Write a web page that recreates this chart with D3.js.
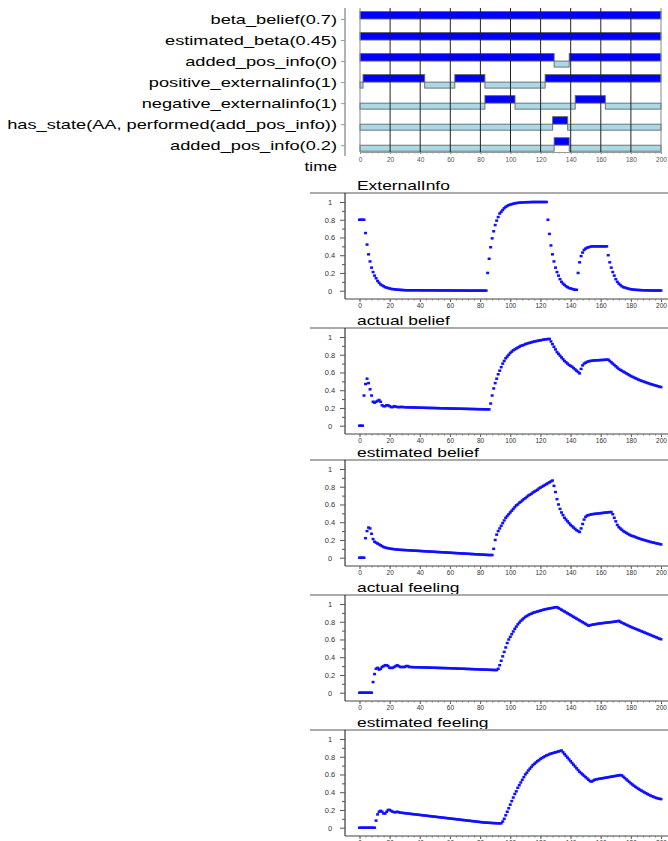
<!DOCTYPE html>
<html>
<head>
<meta charset="utf-8">
<script src="https://cdn.jsdelivr.net/npm/d3@7"></script>
<style>
  body { margin: 0; background: #fff; }
  svg { display: block; }
  text { font-family: "Liberation Sans", Arial, sans-serif; }
</style>
</head>
<body>
<script>
// ---- trace rows (top panel) ----
const traceLabels = [
  'beta_belief(0.7)',
  'estimated_beta(0.45)',
  'added_pos_info(0)',
  'positive_externalinfo(1)',
  'negative_externalinfo(1)',
  'has_state(AA, performed(add_pos_info))',
  'added_pos_info(0.2)'
]
// [from, to, state] ; state 1 = true (dark bar), 0 = false (light bar)
const traceSegments = [
  [[0, 200, 1]],
  [[0, 200, 1]],
  [[0, 129, 1], [129, 139, 0], [139, 200, 1]],
  [[0, 2, 0], [2, 43, 1], [43, 63, 0], [63, 83, 1], [83, 123, 0], [123, 200, 1]],
  [[0, 83, 0], [83, 103, 1], [103, 143, 0], [143, 163, 1], [163, 200, 0]],
  [[0, 128, 0], [128, 138, 1], [138, 200, 0]],
  [[0, 129, 0], [129, 139, 1], [139, 200, 0]]
]
const timeTicks = [0, 20, 40, 60, 80, 100, 120, 140, 160, 180, 200]
const valueTicks = [0, 0.2, 0.4, 0.6, 0.8, 1]

// ---- series, one value per time step 0..200 ----
const externalInfo = [
  0.8, 0.8, 0.8, 0.8, 0.65, 0.52, 0.41, 0.33, 0.26, 0.21, 0.17,
  0.14, 0.11, 0.09, 0.07, 0.06, 0.05, 0.04, 0.035, 0.03, 0.025,
  0.02, 0.018, 0.016, 0.014, 0.012, 0.01, 0.01, 0.008, 0.007, 0.006,
  0.005, 0.005, 0.005, 0.005, 0.005, 0.005, 0.005, 0.005, 0.005, 0.005,
  0.004, 0.004, 0.004, 0.004, 0.004, 0.004, 0.004, 0.004, 0.004, 0.004,
  0.003, 0.003, 0.003, 0.003, 0.003, 0.003, 0.003, 0.003, 0.003, 0.003,
  0.002, 0.002, 0.002, 0.002, 0.002, 0.002, 0.002, 0.002, 0.002, 0.002,
  0.001, 0.001, 0.001, 0.001, 0.001, 0.001, 0.001, 0.001, 0.001, 0.001, 0.001, 0.001, 0.001, 0.001,
  0.2, 0.36, 0.49, 0.59, 0.67, 0.74, 0.79, 0.83, 0.87, 0.89,
  0.91, 0.93, 0.945, 0.955, 0.965, 0.97, 0.976, 0.98, 0.985, 0.988,
  0.99, 0.992, 0.994, 0.995, 0.996, 0.997, 0.998, 0.998, 0.999, 0.999,
  1, 1, 1, 1, 1, 1, 1, 1, 1, 1,
  0.8, 0.64, 0.51, 0.41, 0.33, 0.26, 0.21, 0.17, 0.13, 0.1,
  0.08, 0.065, 0.05, 0.04, 0.03, 0.025, 0.02, 0.015, 0.01, 0.01,
  0.2, 0.32, 0.39, 0.43, 0.46, 0.475, 0.485, 0.49, 0.495, 0.5,
  0.5, 0.5, 0.5, 0.5, 0.5, 0.5, 0.5, 0.5, 0.5, 0.5,
  0.4, 0.32, 0.26, 0.21, 0.17, 0.13, 0.1, 0.08, 0.065, 0.05,
  0.04, 0.035, 0.03, 0.025, 0.02, 0.017, 0.014, 0.012, 0.01, 0.009,
  0.008, 0.007, 0.006, 0.005, 0.005, 0.004, 0.004, 0.003, 0.003, 0.003,
  0.002, 0.002, 0.002, 0.002, 0.002, 0.002
]
const actualBelief = [
  0, 0, 0, 0.34, 0.47, 0.53, 0.48, 0.41, 0.34, 0.27, 0.26,
  0.27, 0.28, 0.29, 0.27, 0.23, 0.22, 0.22, 0.23, 0.23, 0.22,
  0.21, 0.21, 0.22, 0.215, 0.21, 0.21, 0.21, 0.212, 0.21, 0.208,
  0.208, 0.207, 0.207, 0.206, 0.206, 0.205, 0.205, 0.204, 0.204, 0.203,
  0.203, 0.202, 0.202, 0.201, 0.201, 0.2, 0.2, 0.2, 0.199, 0.199,
  0.198, 0.198, 0.197, 0.197, 0.196, 0.196, 0.196, 0.195, 0.195, 0.194,
  0.194, 0.193, 0.193, 0.192, 0.192, 0.192, 0.191, 0.191, 0.19, 0.19,
  0.19, 0.189, 0.189, 0.188, 0.188, 0.188, 0.187, 0.187, 0.186, 0.186,
  0.186, 0.185, 0.185, 0.185, 0.184, 0.184,
  0.25, 0.34, 0.42, 0.48, 0.53, 0.58, 0.62, 0.66, 0.7, 0.73,
  0.76, 0.78, 0.8, 0.82, 0.835, 0.85, 0.86, 0.87, 0.88, 0.89,
  0.9, 0.905, 0.91, 0.92, 0.925, 0.93, 0.935, 0.94, 0.945, 0.95,
  0.953, 0.956, 0.96, 0.963, 0.966, 0.97, 0.973, 0.975, 0.977, 0.978,
  0.95, 0.92, 0.89, 0.86, 0.83, 0.81, 0.79, 0.77, 0.75, 0.73,
  0.715, 0.7, 0.685, 0.675, 0.665, 0.65, 0.635, 0.62, 0.605, 0.59,
  0.64, 0.68, 0.7, 0.71, 0.72, 0.725, 0.73, 0.732, 0.734, 0.736,
  0.737, 0.738, 0.739, 0.74, 0.741, 0.742, 0.743, 0.744, 0.745, 0.73,
  0.715, 0.7, 0.685, 0.67, 0.655, 0.64, 0.63, 0.62, 0.61, 0.6,
  0.59, 0.58, 0.57, 0.56, 0.552, 0.544, 0.536, 0.528, 0.52, 0.513,
  0.506, 0.5, 0.494, 0.488, 0.482, 0.476, 0.47, 0.465, 0.46, 0.455,
  0.45, 0.445, 0.44, 0.435
]
const estimatedBelief = [
  0, 0, 0, 0, 0.22, 0.3, 0.34, 0.33, 0.27, 0.21, 0.18,
  0.17, 0.16, 0.15, 0.14, 0.13, 0.12, 0.115, 0.11, 0.107, 0.104,
  0.1, 0.098, 0.096, 0.094, 0.092, 0.09, 0.089, 0.088, 0.087, 0.086,
  0.085, 0.084, 0.083, 0.082, 0.081, 0.08, 0.079, 0.078, 0.077, 0.076,
  0.075, 0.074, 0.073, 0.072, 0.071, 0.07, 0.069, 0.068, 0.067, 0.066,
  0.065, 0.064, 0.063, 0.062, 0.061, 0.06, 0.059, 0.058, 0.057, 0.056,
  0.055, 0.054, 0.053, 0.052, 0.051, 0.05, 0.049, 0.048, 0.047, 0.046,
  0.045, 0.044, 0.043, 0.042, 0.041, 0.04, 0.039, 0.038, 0.037, 0.036,
  0.035, 0.034, 0.033, 0.032, 0.031, 0.03, 0.03, 0.03,
  0.1, 0.2, 0.26, 0.3, 0.33, 0.36, 0.39, 0.42, 0.45, 0.47,
  0.49, 0.51, 0.53, 0.55, 0.57, 0.59, 0.6, 0.62, 0.63, 0.645,
  0.66, 0.67, 0.685, 0.7, 0.71, 0.72, 0.735, 0.745, 0.755, 0.765,
  0.78, 0.79, 0.8, 0.81, 0.82, 0.83, 0.84, 0.85, 0.86, 0.87,
  0.81, 0.74, 0.66, 0.6, 0.55, 0.51, 0.48, 0.45, 0.43, 0.41,
  0.39, 0.37, 0.355, 0.34, 0.325, 0.31, 0.3, 0.29, 0.33, 0.38,
  0.43, 0.46, 0.475, 0.48, 0.485, 0.49, 0.492, 0.494, 0.496, 0.498,
  0.5, 0.502, 0.504, 0.506, 0.508, 0.51, 0.512, 0.514, 0.515, 0.49,
  0.45, 0.41, 0.37, 0.345, 0.33, 0.315, 0.3, 0.29, 0.28, 0.27,
  0.26, 0.25, 0.245, 0.24, 0.233, 0.226, 0.22, 0.214, 0.208, 0.203,
  0.198, 0.193, 0.188, 0.183, 0.178, 0.174, 0.17, 0.166, 0.162, 0.158,
  0.154, 0.15
]
const actualFeeling = [
  0, 0, 0, 0, 0, 0, 0, 0, 0,
  0.12, 0.21, 0.27, 0.28, 0.26, 0.27, 0.29, 0.3, 0.31, 0.31,
  0.3, 0.28, 0.28, 0.28, 0.29, 0.3, 0.31, 0.3, 0.29, 0.29,
  0.29, 0.29, 0.3, 0.3, 0.29, 0.29, 0.288, 0.288, 0.287, 0.287,
  0.286, 0.286, 0.285, 0.285, 0.284, 0.284, 0.283, 0.283, 0.282, 0.282,
  0.281, 0.281, 0.28, 0.28, 0.279, 0.279, 0.278, 0.278, 0.277, 0.277,
  0.276, 0.276, 0.275, 0.275, 0.274, 0.273, 0.272, 0.272, 0.271, 0.27,
  0.27, 0.269, 0.268, 0.268, 0.267, 0.266, 0.266, 0.265, 0.264, 0.264,
  0.263, 0.262, 0.262, 0.261, 0.26, 0.26, 0.259, 0.258, 0.258, 0.257,
  0.256, 0.256, 0.255,
  0.27, 0.31, 0.36, 0.41, 0.46, 0.51, 0.56, 0.6, 0.63, 0.66,
  0.69, 0.72, 0.745, 0.77, 0.79, 0.81, 0.825, 0.84, 0.855, 0.865,
  0.875, 0.885, 0.89, 0.9, 0.905, 0.91, 0.915, 0.92, 0.925, 0.93,
  0.935, 0.94, 0.943, 0.946, 0.95, 0.953, 0.956, 0.96, 0.963, 0.965,
  0.955, 0.945, 0.935, 0.925, 0.915, 0.905, 0.895, 0.885, 0.875, 0.865,
  0.855, 0.845, 0.835, 0.825, 0.815, 0.805, 0.795, 0.785, 0.775, 0.765,
  0.755, 0.76, 0.765, 0.768, 0.771, 0.774, 0.777, 0.78, 0.782, 0.784,
  0.786, 0.788, 0.79, 0.792, 0.794, 0.796, 0.798, 0.8, 0.803, 0.806,
  0.81, 0.8, 0.79, 0.782, 0.774, 0.766, 0.758, 0.75, 0.742, 0.735,
  0.728, 0.721, 0.714, 0.707, 0.7, 0.693, 0.686, 0.679, 0.672, 0.665,
  0.658, 0.651, 0.644, 0.637, 0.63, 0.623, 0.616, 0.609, 0.602
]
const estimatedFeeling = [
  0, 0, 0, 0, 0, 0, 0, 0, 0, 0, 0,
  0.08, 0.15, 0.18, 0.19, 0.18, 0.16, 0.16, 0.18, 0.2, 0.2,
  0.19, 0.18, 0.175, 0.175, 0.18, 0.175, 0.17, 0.168, 0.166, 0.164,
  0.162, 0.16, 0.158, 0.156, 0.154, 0.152, 0.15, 0.148, 0.146, 0.144,
  0.142, 0.14, 0.138, 0.136, 0.134, 0.132, 0.13, 0.128, 0.126, 0.124,
  0.122, 0.12, 0.118, 0.116, 0.114, 0.112, 0.11, 0.108, 0.106, 0.104,
  0.102, 0.1, 0.098, 0.096, 0.094, 0.092, 0.09, 0.088, 0.086, 0.084,
  0.082, 0.08, 0.078, 0.076, 0.074, 0.072, 0.07, 0.068, 0.066, 0.064,
  0.062, 0.06, 0.058, 0.057, 0.056, 0.055, 0.054, 0.053, 0.052, 0.051,
  0.05, 0.05, 0.049, 0.05,
  0.07, 0.1, 0.14, 0.18, 0.22, 0.26, 0.3, 0.34, 0.38, 0.41,
  0.45, 0.48, 0.51, 0.54, 0.57, 0.6, 0.62, 0.645, 0.665, 0.685,
  0.705, 0.72, 0.735, 0.75, 0.76, 0.775, 0.785, 0.795, 0.805, 0.815,
  0.82, 0.83, 0.835, 0.84, 0.845, 0.85, 0.855, 0.86, 0.865, 0.87,
  0.85, 0.83, 0.81, 0.79, 0.77, 0.75, 0.73, 0.71, 0.69, 0.67,
  0.65, 0.63, 0.615, 0.6, 0.585, 0.57, 0.555, 0.54, 0.525, 0.52,
  0.53, 0.54, 0.545, 0.548, 0.551, 0.554, 0.557, 0.56, 0.563, 0.566,
  0.569, 0.572, 0.575, 0.578, 0.581, 0.584, 0.587, 0.59, 0.593, 0.59,
  0.575, 0.56, 0.545, 0.53, 0.515, 0.5, 0.487, 0.474, 0.462, 0.45,
  0.439, 0.428, 0.418, 0.408, 0.398, 0.389, 0.38, 0.371, 0.363, 0.355,
  0.348, 0.341, 0.335, 0.33, 0.326, 0.322
]

const panelTitles = ['ExternalInfo', 'actual belief', 'estimated belief', 'actual feeling', 'estimated feeling']
const panelSeries = [externalInfo, actualBelief, estimatedBelief, actualFeeling, estimatedFeeling]

// ---------------------------------------------------------------
const width = 668, height = 841
const svg = d3.select('body').append('svg')
  .attr('width', width)
  .attr('height', height)

// ===== top: trace panel =====
const tx = d3.scaleLinear().domain([0, 200]).range([360, 661])
const rowY = d3.scaleLinear().domain([0, 6]).range([19.5, 145.7]) // row centre
const traceG = svg.append('g')

// left gray rail with row ticks
traceG.append('line')
  .attr('x1', 345).attr('x2', 345).attr('y1', 8).attr('y2', 156)
  .attr('stroke', '#999').attr('stroke-width', 1.5)
traceG.selectAll('.rowtick')
  .data(traceLabels)
  .join('line')
  .attr('x1', 341).attr('x2', 345)
  .attr('y1', (d, i) => rowY(i)).attr('y2', (d, i) => rowY(i))
  .attr('stroke', '#999')

traceG.selectAll('.rowlabel')
  .data(traceLabels)
  .join('text')
  .attr('text-anchor', 'end')
  .attr('font-size', 13.2)
  .attr('transform', (d, i) => `translate(337,${rowY(i) + 4.6}) scale(1.38,1)`)
  .text(d => d)

traceG.append('text')
  .attr('text-anchor', 'end')
  .attr('font-size', 13.2)
  .attr('transform', 'translate(337,170.5) scale(1.3,1)')
  .text('time')

// bars
traceSegments.forEach((segs, i) => {
  const c = rowY(i)
  traceG.append('g')
    .selectAll('rect')
    .data(segs)
    .join('rect')
    .attr('x', d => tx(d[0]))
    .attr('width', d => tx(d[1]) - tx(d[0]))
    .attr('y', d => d[2] ? c - 8 : c - 0.5)
    .attr('height', d => d[2] ? 7.5 : 6)
    .attr('fill', d => d[2] ? '#0000ff' : '#a9d9e7')
    .attr('stroke', '#666')
    .attr('stroke-width', 0.9)
})

// vertical grid on top of bars
traceG.append('g')
  .selectAll('line')
  .data(timeTicks)
  .join('line')
  .attr('x1', d => tx(d)).attr('x2', d => tx(d))
  .attr('y1', 8).attr('y2', 152)
  .attr('stroke', d => (d === 0 || d === 200) ? '#888' : '#222')
  .attr('stroke-width', 1)

// time axis of trace panel
const traceAxis = traceG.append('g').attr('transform', 'translate(0,152)')
traceAxis.call(d3.axisBottom(tx).tickValues(timeTicks).tickSize(2).tickSizeOuter(0).tickPadding(3))
traceAxis.select('.domain').attr('stroke', '#999')
traceAxis.selectAll('line').attr('stroke', '#777')
traceAxis.selectAll('text').attr('font-size', 6.5).attr('fill', '#555')
  .attr('font-family', '"Liberation Sans", Arial, sans-serif')
traceG.append('g').attr('transform', 'translate(0,152)')
  .call(d3.axisBottom(tx).tickValues(d3.range(0, 201, 4)).tickSize(1.5).tickFormat(''))
  .call(g => g.select('.domain').remove())
  .selectAll('line').attr('stroke', '#999')

// ===== lower panels =====
const panelTops = [202, 337, 469, 604, 739]
const px = d3.scaleLinear().domain([0, 200]).range([359.5, 661])

panelSeries.forEach((series, i) => {
  const t0 = panelTops[i]
  const py = d3.scaleLinear().domain([0, 1]).range([t0 + 88.7, t0])
  const g = svg.append('g')

  g.append('text')
    .attr('font-size', 12.8)
    .attr('transform', `translate(357,${t0 - 12}) scale(1.36,1)`)
    .text(panelTitles[i])

  g.append('line')
    .attr('x1', 310).attr('x2', 668).attr('y1', t0 - 9).attr('y2', t0 - 9)
    .attr('stroke', '#aaa').attr('stroke-width', 2)

  // y axis
  g.append('line')
    .attr('x1', 345).attr('x2', 345).attr('y1', t0 - 9).attr('y2', t0 + 97)
    .attr('stroke', '#111')
  const ya = g.append('g').attr('transform', 'translate(345,0)')
  ya.call(d3.axisLeft(py).tickValues(valueTicks).tickSize(5).tickFormat(d3.format('~g')))
  ya.select('.domain').remove()
  ya.selectAll('line').attr('stroke', '#555')
  ya.selectAll('text')
    .attr('x', -15).attr('text-anchor', 'middle')
    .attr('font-size', 7.5).attr('fill', '#333')
    .attr('font-family', '"Liberation Sans", Arial, sans-serif')
  g.append('g').attr('transform', 'translate(345,0)')
    .call(d3.axisLeft(py).tickValues([0.1, 0.3, 0.5, 0.7, 0.9]).tickSize(3).tickFormat(''))
    .call(s => s.select('.domain').remove())
    .selectAll('line').attr('stroke', '#555')

  // x axis
  const xa = g.append('g').attr('transform', `translate(0,${t0 + 97})`)
  xa.call(d3.axisBottom(px).tickValues(timeTicks).tickSize(3).tickSizeOuter(0).tickPadding(1.5))
  xa.select('.domain').remove()
  xa.selectAll('line').attr('stroke', '#555')
  xa.selectAll('text').attr('font-size', 6.5).attr('fill', '#333')
    .attr('font-family', '"Liberation Sans", Arial, sans-serif')
  g.append('line')
    .attr('x1', 345).attr('x2', 668).attr('y1', t0 + 97).attr('y2', t0 + 97)
    .attr('stroke', '#444')
  g.append('g').attr('transform', `translate(0,${t0 + 97})`)
    .call(d3.axisBottom(px).tickValues(d3.range(0, 201, 4)).tickSize(1.5).tickFormat(''))
    .call(s => s.select('.domain').remove())
    .selectAll('line').attr('stroke', '#777')

  // points
  g.append('g')
    .selectAll('rect')
    .data(series)
    .join('rect')
    .attr('x', (d, t) => px(t) - 1.5)
    .attr('y', d => py(d) - 1.25)
    .attr('width', 3)
    .attr('height', 2.5)
    .attr('fill', '#1010ff')
})
</script>
</body>
</html>
